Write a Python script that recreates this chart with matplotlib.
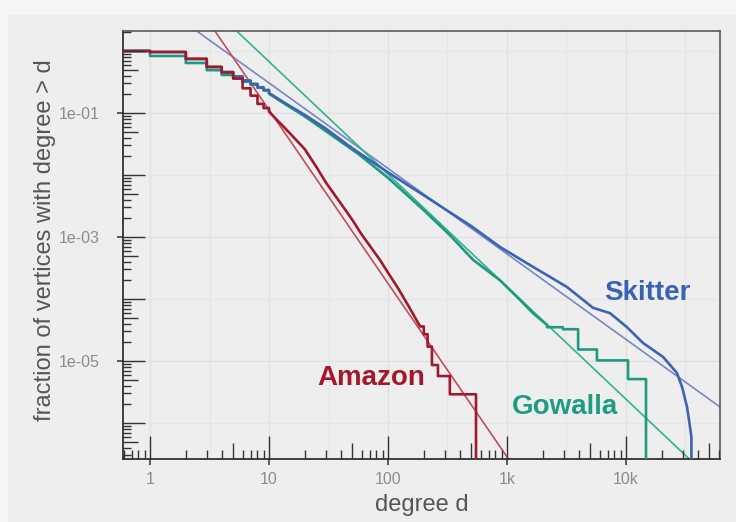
import numpy as np
import matplotlib.pyplot as plt
from matplotlib.patches import Rectangle
from matplotlib.ticker import NullFormatter

plt.rcParams['font.family'] = ['Liberation Sans', 'DejaVu Sans']

# fraction of vertices with degree > d
# head = integer-degree staircase, mid = dense part, tail = last few vertices
skitter_head_deg = [0.5, 1, 2, 3, 4, 5, 6, 7, 8, 9, 10]
skitter_head_frac = [1.0, 0.96, 0.74, 0.55, 0.46, 0.39, 0.335, 0.295, 0.26, 0.235, 0.21]
skitter_mid_deg = [10, 14, 20, 30, 50, 100, 200, 331, 500, 873, 1652, 3190, 5280, 7340,
                   10200, 13900, 20500, 26800, 29600, 32600, 34500, 35455]
skitter_mid_frac = [0.21, 0.14, 0.093, 0.056, 0.027, 0.011, 0.0047, 0.0025, 0.0015, 6.9e-4,
                    3.3e-4, 1.56e-4, 7.2e-5, 5.9e-5, 3.5e-5, 1.95e-5, 1.16e-5, 6.4e-6,
                    3.8e-6, 1.8e-6, 8.7e-7, 5.9e-7]
skitter_tail_deg = [35455, 35455]
skitter_tail_frac = [5.9e-7, 1e-9]

gowalla_head_deg = [0.5, 1, 2, 3, 4, 5, 6, 7, 8, 9, 10]
gowalla_head_frac = [1.0, 0.83, 0.64, 0.49, 0.41, 0.36, 0.32, 0.285, 0.255, 0.23, 0.205]
gowalla_mid_deg = [10, 14, 20, 30, 56, 100, 200, 331, 517, 873, 1290, 1652, 2170]
gowalla_mid_frac = [0.205, 0.135, 0.088, 0.051, 0.022, 0.009, 0.0027, 0.00107, 4.3e-4,
                    2.0e-4, 9.6e-5, 5.9e-5, 3.8e-5]
gowalla_tail_deg = [2170, 2950, 3960, 5700, 10400, 14730]
gowalla_tail_frac = [3.5e-5, 3.25e-5, 1.53e-5, 1.02e-5, 5.1e-6, 1e-9]

amazon_head_deg = [0.5, 1, 2, 3, 4, 5, 6, 7, 8, 9, 10]
amazon_head_frac = [1.0, 0.965, 0.75, 0.555, 0.45, 0.36, 0.25, 0.19, 0.14, 0.12, 0.105]
amazon_mid_deg = [10, 12, 15, 20, 25, 30, 40, 50, 60, 70, 86, 100, 120, 150, 186]
amazon_mid_frac = [0.105, 0.073, 0.047, 0.026, 0.0135, 0.0076, 0.0035, 0.0019, 0.0011,
                   7.3e-4, 4.2e-4, 2.65e-4, 1.55e-4, 7.5e-5, 3.6e-5]
amazon_tail_deg = [186, 200, 215, 234, 263, 331, 549]
amazon_tail_frac = [3.6e-5, 2.7e-5, 1.7e-5, 8.6e-6, 5.7e-6, 2.9e-6, 1e-9]

# power-law fits, end points
skitter_fit_deg = [1, 1e5]
skitter_fit_frac = [7.3, 9.3e-7]
gowalla_fit_deg = [1, 1e5]
gowalla_fit_frac = [44, 3.7e-8]
amazon_fit_deg = [1, 1e4]
amazon_fit_frac = [70.6, 4.5e-10]

BG = '#eeeeee'


def stairs(deg, frac):
    """Corner points of a post-style staircase."""
    x = np.repeat(deg, 2)[1:]
    y = np.repeat(frac, 2)[:-1]
    return x, y


def ccdf_path(head_deg, head_frac, mid_deg, mid_frac, tail_deg, tail_frac):
    hx, hy = stairs(head_deg, head_frac)
    tx, ty = stairs(tail_deg, tail_frac)
    x = np.concatenate([hx, mid_deg, tx])
    y = np.concatenate([hy, mid_frac, ty])
    return x, y


fig = plt.figure(figsize=(7.36, 5.22), dpi=100, facecolor='#f5f5f5')
# slide area (slightly darker than the outer margin)
fig.add_artist(Rectangle((8 / 736, 0), 1, 1 - 15 / 522, transform=fig.transFigure,
                         facecolor=BG, edgecolor='none', zorder=-10))

ax = fig.add_axes([123 / 736, 1 - 459 / 522, 597 / 736, 428 / 522])
ax.set_facecolor(BG)
ax.set_xscale('log')
ax.set_yscale('log')
ax.set_xlim(0.593, 61660)
ax.set_ylim(2.62e-7, 2.10)

# grid: decades + half decades on x, every decade on y
ax.set_xticks([1, 10, 100, 1000, 10000])
ax.set_xticklabels(['1', '10', '100', '1k', '10k'])
ax.set_xticks([10 ** (k + 0.5) for k in range(0, 5)], minor=True)
ax.set_yticks([1e-1, 1e-3, 1e-5])
ax.set_yticklabels(['1e-01', '1e-03', '1e-05'])
ax.set_yticks([1, 1e-2, 1e-4, 1e-6], minor=True)
ax.xaxis.set_minor_formatter(NullFormatter())
ax.yaxis.set_minor_formatter(NullFormatter())
ax.grid(which='major', color='#e1e1e1', lw=1.0)
ax.grid(which='minor', color='#e6e6e6', lw=0.9)
ax.set_axisbelow(True)

ax.tick_params(which='major', direction='out', length=4.5, width=1.1, color='#333333',
               labelsize=11.5, labelcolor='#8c8c8c')
ax.tick_params(axis='y', which='major', pad=12)
ax.tick_params(axis='x', which='major', pad=5)
ax.tick_params(which='minor', length=0)

# inward log ticks (long / mid / short)
xtr = ax.get_xaxis_transform()
ytr = ax.get_yaxis_transform()
for k in range(-1, 6):
    for m in range(1, 10):
        v = m * 10.0 ** k
        if 0.593 < v < 61660:
            h = 0.054 if m == 1 else (0.037 if m == 5 else 0.021)
            ax.plot([v, v], [0, h], transform=xtr, color='#333333', lw=1.0,
                    solid_capstyle='butt', zorder=4)
for k in range(-7, 1):
    for m in range(1, 10):
        v = m * 10.0 ** k
        if 2.62e-7 < v < 2.10:
            w = 0.037 if m == 1 else (0.025 if m == 5 else 0.013)
            ax.plot([0, w], [v, v], transform=ytr, color='#333333', lw=1.0,
                    solid_capstyle='butt', zorder=4)

# fitted lines
ax.plot(skitter_fit_deg, skitter_fit_frac, color='#7787c6', lw=1.2, zorder=2)
ax.plot(gowalla_fit_deg, gowalla_fit_frac, color='#2db392', lw=1.2, zorder=2)
ax.plot(amazon_fit_deg, amazon_fit_frac, color='#c44c5a', lw=1.2, zorder=2)

# empirical distributions
x, y = ccdf_path(gowalla_head_deg, gowalla_head_frac, gowalla_mid_deg, gowalla_mid_frac,
                 gowalla_tail_deg, gowalla_tail_frac)
ax.plot(x, y, color='#1f9a80', lw=1.9, zorder=3)
x, y = ccdf_path(skitter_head_deg, skitter_head_frac, skitter_mid_deg, skitter_mid_frac,
                 skitter_tail_deg, skitter_tail_frac)
ax.plot(x, y, color='#3d63b3', lw=1.9, zorder=3)
x, y = ccdf_path(amazon_head_deg, amazon_head_frac, amazon_mid_deg, amazon_mid_frac,
                 amazon_tail_deg, amazon_tail_frac)
ax.plot(x, y, color='#9e1a2c', lw=1.9, zorder=3)

# series labels
ax.text(15000, 1.25e-4, 'Skitter', color='#3a62b4', fontsize=20, fontweight='bold',
        ha='center', va='center')
ax.text(3070, 1.8e-6, 'Gowalla', color='#1e9c82', fontsize=20, fontweight='bold',
        ha='center', va='center')
ax.text(72, 5.3e-6, 'Amazon', color='#a3172c', fontsize=20, fontweight='bold',
        ha='center', va='center')

for side in ['left', 'bottom']:
    ax.spines[side].set_color('#222222')
    ax.spines[side].set_linewidth(1.2)
for side in ['top', 'right']:
    ax.spines[side].set_color('#5a5a5a')
    ax.spines[side].set_linewidth(1.2)

fig.text(45 / 736, 1 - 240 / 522, 'fraction of vertices with degree > d', rotation=90,
         ha='center', va='center', fontsize=17, color='#555555')
fig.text(422 / 736, 1 - 505 / 522, 'degree d', ha='center', va='center', fontsize=17,
         color='#555555')

fig.savefig('out.png', dpi=100, facecolor=fig.get_facecolor())
